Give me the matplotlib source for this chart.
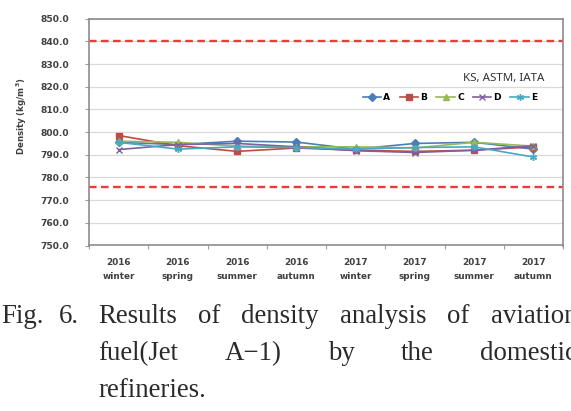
import numpy as np
import matplotlib
matplotlib.use('Agg')
import matplotlib.pyplot as plt

# data
seasons = ['2016\nwinter', '2016\nspring', '2016\nsummer', '2016\nautumn',
	'2017\nwinter', '2017\nspring', '2017\nsummer', '2017\nautumn']
series_names = ['A', 'B', 'C', 'D', 'E']
dens_A = [795.5, 794.5, 796.0, 795.6, 792.5, 795.0, 795.5, 792.5]
dens_B = [798.5, 794.0, 791.5, 793.0, 792.0, 791.5, 792.0, 793.5]
dens_C = [796.0, 795.5, 793.8, 793.5, 793.5, 793.0, 795.5, 793.8]
dens_D = [792.3, 794.5, 795.0, 793.5, 791.8, 791.0, 792.0, 794.0]
dens_E = [795.5, 792.5, 793.5, 793.2, 792.5, 793.2, 793.5, 789.0]
spec_max = 840.0
spec_min = 775.8
spec_label = 'KS, ASTM, IATA'
y_ticks = np.arange(750, 851, 10)

W, H = 571, 411
fig = plt.figure(figsize=(W / 100, H / 100), dpi=100)
ax = fig.add_axes([89 / W, 1 - 245.5 / H, (563 - 89) / W, (245.5 - 18.7) / H])

colors = ['#4a7ebb', '#be4b48', '#98b954', '#7d60a0', '#46aac5']
markers = ['D', 's', '^', 'x', (6, 2, 0)]
msizes = [4, 4.5, 4.5, 4.5, 5]
x = np.arange(len(seasons))
lab_font = dict(family='DejaVu Sans', fontweight='bold', color='#404040')

for name, vals, c, m, ms in zip(series_names, [dens_A, dens_B, dens_C, dens_D, dens_E], colors, markers, msizes):
	ax.plot(x, vals, color=c, marker=m, markersize=ms, lw=1.2, label=name,
		markeredgecolor=c, markerfacecolor=c, markeredgewidth=1.0)

# spec limits
for v in [spec_max, spec_min]:
	ax.axhline(v, color='#ee3b35', lw=1.7, dashes=(3.2, 1.9), zorder=1)

ax.text(0.96, (823.5 - 750) / 100, spec_label, transform=ax.transAxes, ha='right', va='center',
	fontsize=8.3, family='Noto Sans', color='#333333')

ax.set_ylim(750, 850)
ax.set_xlim(-0.5, len(seasons) - 0.5)
ax.set_yticks(y_ticks)
ax.set_yticklabels(['%.1f' % v for v in y_ticks], fontsize=6.6, **lab_font)
ax.yaxis.grid(True, color='#d9d9d9', lw=0.9)
ax.set_axisbelow(True)

# category axis: ticks on boundaries, labels centred
ax.set_xticks(np.arange(-0.5, len(seasons), 1.0))
ax.set_xticklabels([])
ax.set_xticks(x, minor=True)
ax.set_xticklabels(seasons, minor=True, fontsize=6.4, linespacing=1.75, **lab_font)
ax.tick_params(axis='x', which='minor', length=0, pad=9)
ax.tick_params(axis='x', which='major', length=3, color='#a0a0a0')
ax.tick_params(axis='y', length=3, color='#a0a0a0', pad=11)

for s in ax.spines.values():
	s.set_color('#8c8c8c')
	s.set_linewidth(1.2)

leg = ax.legend(loc='center', bbox_to_anchor=(450 / W, 1 - 97.7 / H), bbox_transform=fig.transFigure,
	ncol=5, frameon=False, handlelength=2.0, handletextpad=0.25, columnspacing=1.0,
	prop={'family': 'DejaVu Sans', 'weight': 'bold', 'size': 6.6})

fig.text(22 / W, 1 - 116.5 / H, 'Density (kg/m$\\mathregular{^3}$)', rotation=90, ha='center', va='center',
	fontsize=6.2, **lab_font)

# caption, justified like the printed page
cap_font = dict(family='Liberation Serif', fontsize=19.4, color='#2a2a2a', va='baseline')
renderer = fig.canvas.get_renderer()

def justify(words, y, x0, x1):
	texts = [fig.text(0, 1 - y / H, w, **cap_font) for w in words]
	widths = [t.get_window_extent(renderer).width for t in texts]
	gap = (x1 - x0 - sum(widths)) / (len(words) - 1)
	xx = x0
	for t, wd in zip(texts, widths):
		t.set_x(xx / W)
		xx += wd + gap

fig.text(1 / W, 1 - 323 / H, 'Fig.', **cap_font)
fig.text(59 / W, 1 - 323 / H, '6.', **cap_font)
justify(['Results', 'of', 'density', 'analysis', 'of', 'aviation'], 323, 98, 577)
justify(['fuel(Jet', 'A\u22121)', 'by', 'the', 'domestic'], 360, 98, 577)
fig.text(98 / W, 1 - 397 / H, 'refineries.', **cap_font)

fig.savefig('out.png', dpi=100)
